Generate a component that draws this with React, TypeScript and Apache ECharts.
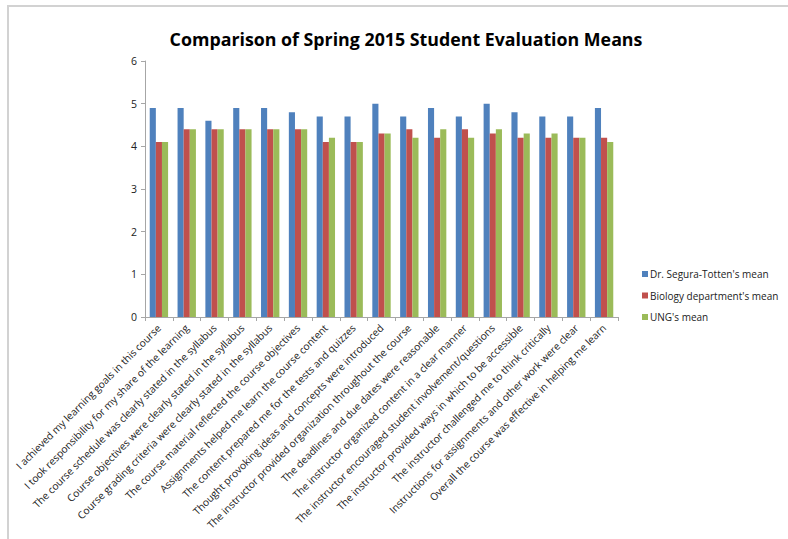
import React, { useEffect, useRef } from "react";
import * as echarts from "echarts";

const questions = [
  "I achieved my learning goals in this course",
  "I took responsibility for my share of the learning",
  "The course schedule was clearly stated in the syllabus",
  "Course objectives were clearly stated in the syllabus",
  "Course grading criteria were clearly stated in the syllabus",
  "The course material reflected the course objectives",
  "Assignments helped me learn the course content",
  "The content prepared me for the tests and quizzes",
  "Thought provoking ideas and concepts were introduced",
  "The instructor provided organization throughout the course",
  "The deadlines and due dates were reasonable",
  "The instructor organized content in a clear manner",
  "The instructor encouraged student involvement/questions",
  "The instructor provided ways in which to be accessible",
  "The instructor challenged me to think critically",
  "Instructions for assignments and other work were clear",
  "Overall the course was effective in helping me learn",
];

const instructorMeans = [4.9, 4.9, 4.6, 4.9, 4.9, 4.8, 4.7, 4.7, 5.0, 4.7, 4.9, 4.7, 5.0, 4.8, 4.7, 4.7, 4.9];
const biologyMeans = [4.1, 4.4, 4.4, 4.4, 4.4, 4.4, 4.1, 4.1, 4.3, 4.4, 4.2, 4.4, 4.3, 4.2, 4.2, 4.2, 4.2];
const ungMeans = [4.1, 4.4, 4.4, 4.4, 4.4, 4.4, 4.2, 4.1, 4.3, 4.2, 4.4, 4.2, 4.4, 4.3, 4.3, 4.2, 4.1];

const seriesNames = ["Dr. Segura-Totten's mean", "Biology department's mean", "UNG's mean"];
const seriesColors = ["#4F81BD", "#C0504D", "#9BBB59"];
const yTicks = { min: 0, max: 6, interval: 1 };

const FONT = "'Open Sans', 'Noto Sans', sans-serif";

export default function App() {
  const ref = useRef<HTMLDivElement>(null);

  useEffect(() => {
    if (!ref.current) return;
    const chart = echarts.init(ref.current, null, { renderer: "svg" });
    const values = [instructorMeans, biologyMeans, ungMeans];
    chart.setOption({
      animation: false,
      backgroundColor: "#ffffff",
      textStyle: { fontFamily: FONT },
      title: {
        text: "Comparison of Spring 2015 Student Evaluation Means",
        left: 401,
        textAlign: "center",
        top: 25,
        textStyle: { fontFamily: FONT, fontSize: 17.8, fontWeight: "bold", color: "#000" },
      },
      legend: {
        orient: "vertical",
        left: 637,
        top: 264,
        itemWidth: 6,
        itemHeight: 6,
        itemGap: 11.5,
        icon: "rect",
        data: seriesNames,
        textStyle: { fontFamily: FONT, fontSize: 10, color: "#222", padding: [0, 0, 0, -3] },
      },
      grid: { left: 145, right: 170, top: 61, bottom: 222, containLabel: false },
      xAxis: {
        type: "category",
        data: questions,
        axisLine: { lineStyle: { color: "#a6a6a6", width: 1 } },
        axisTick: { show: true, length: 4, lineStyle: { color: "#a6a6a6" } },
        axisLabel: {
          interval: 0,
          rotate: 45,
          margin: 9,
          fontFamily: FONT,
          fontSize: 10.2,
          color: "#222",
        },
      },
      yAxis: {
        type: "value",
        min: yTicks.min,
        max: yTicks.max,
        interval: yTicks.interval,
        splitLine: { show: false },
        axisLine: { show: true, lineStyle: { color: "#a6a6a6", width: 1 } },
        axisTick: { show: true, length: 4, lineStyle: { color: "#a6a6a6" } },
        axisLabel: { margin: 8, fontFamily: FONT, fontSize: 10.5, color: "#222" },
      },
      series: seriesNames.map((name, i) => ({
        name,
        type: "bar",
        data: values[i],
        barGap: "0%",
        barCategoryGap: "34%",
        itemStyle: { color: seriesColors[i] },
      })),
    });
    return () => chart.dispose();
  }, []);

  return (
    <div style={{ position: "fixed", left: 0, top: 0, width: 788, height: 539, background: "#fff" }}>
      <div
        style={{
          position: "absolute",
          left: 7,
          top: 5,
          right: 0,
          bottom: 0,
          borderTop: "2px solid #d2d2d2",
          borderLeft: "2px solid #d2d2d2",
          pointerEvents: "none",
          zIndex: 2,
        }}
      />
      <div ref={ref} style={{ position: "absolute", left: 0, top: 0, width: 788, height: 539 }} />
    </div>
  );
}
